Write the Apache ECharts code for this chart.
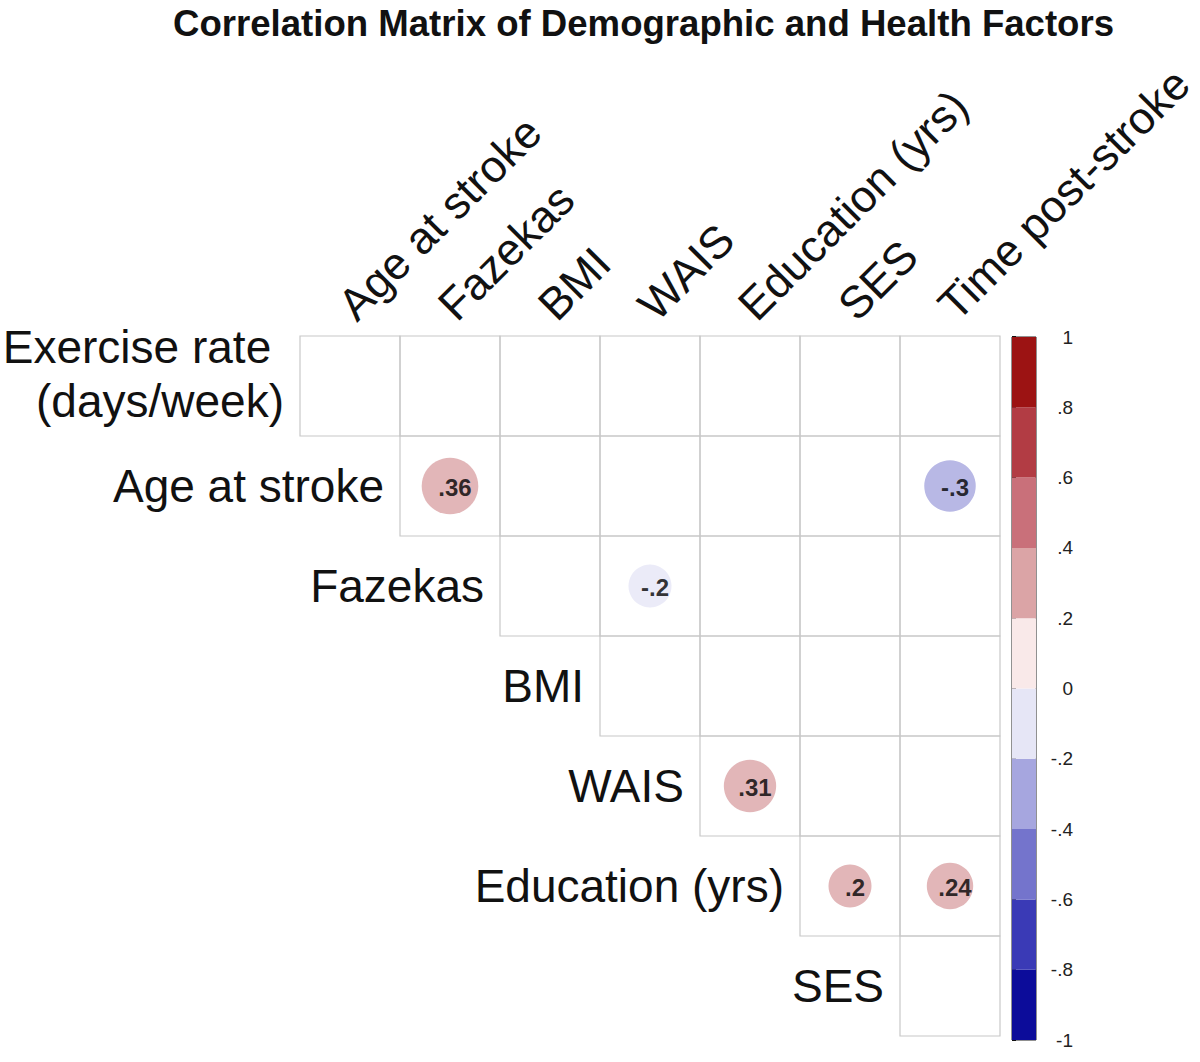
<!DOCTYPE html>
<html>
<head>
<meta charset="utf-8">
<title>Correlation Matrix</title>
<script src="https://cdn.jsdelivr.net/npm/echarts@6/dist/echarts.min.js"></script>
<style>
  html, body { margin: 0; padding: 0; background: #fff; }
  #main { width: 1200px; height: 1062px; }
</style>
</head>
<body>
<div id="main"></div>
<script>
// variables of the matrix
var rowNames = ['Exercise rate\n(days/week)', 'Age at stroke', 'Fazekas', 'BMI', 'WAIS', 'Education (yrs)', 'SES'];
var colNames = ['Age at stroke', 'Fazekas', 'BMI', 'WAIS', 'Education (yrs)', 'SES', 'Time post-stroke'];

// significant correlations (the only circles shown)
var corrRow = [1, 1, 2, 4, 5, 5];   // index into rowNames
var corrCol = ['Fazekas', 'Time post-stroke', 'WAIS', 'Education (yrs)', 'SES', 'Time post-stroke'];
var corrValue = [0.36, -0.3, -0.2, 0.31, 0.2, 0.24];

// colour scale
var bandLow = [-1, -0.8, -0.6, -0.4, -0.2, 0, 0.2, 0.4, 0.6, 0.8];
var bandHigh = [-0.8, -0.6, -0.4, -0.2, 0, 0.2, 0.4, 0.6, 0.8, 1];
var bandColor = ['#0c0c9a', '#3a3ab6', '#7474cc', '#a6a6df', '#e6e6f6',
                 '#f9e9e9', '#dba4a6', '#c9707a', '#b23c44', '#9c1313'];

function colorFor(v) {
  for (var i = 0; i < bandLow.length; i++) {
    if (v >= bandLow[i] - 1e-9 && v < bandHigh[i] - 1e-9) return bandColor[i];
  }
  return bandColor[bandColor.length - 1];
}
function fmt(v) {
  return String(v).replace('0.', '.');
}

// upper-triangle cells
var cellData = [];
for (var i = 0; i < rowNames.length; i++) {
  for (var j = i; j < colNames.length; j++) cellData.push([j, i]);
}
var rowLabelData = rowNames.map(function (n, i) { return [i, i]; });
var colLabelData = colNames.map(function (n, j) { return [j, 0]; });

var circleData = corrValue.map(function (v, k) {
  return {
    value: [colNames.indexOf(corrCol[k]), corrRow[k], v],
    itemStyle: { color: colorFor(v) }
  };
});

var barData = bandLow.map(function (lo, i) { return [lo, bandHigh[i]]; });

var labelFont = 'Liberation Sans, Arial, sans-serif';

var chart = echarts.init(document.getElementById('main'), null, { renderer: 'svg' });
var option = {
  backgroundColor: '#fff',
  animation: false,
  title: {
    text: 'Correlation Matrix of Demographic and Health Factors',
    left: 168,
    top: 0,
    textStyle: {
      fontFamily: labelFont,
      fontWeight: 'bold',
      fontSize: 36.6,
      color: '#111'
    }
  },
  grid: [
    { left: 300, top: 336, width: 700, height: 700 },
    { left: 1012, top: 337, width: 24, height: 703, show: true, borderColor: '#222', borderWidth: 1 }
  ],
  xAxis: [
    {
      gridIndex: 0,
      type: 'category',
      data: colNames,
      position: 'top',
      axisLine: { show: false },
      axisTick: { show: false },
      splitLine: { show: false },
      axisLabel: { show: false }
    },
    { gridIndex: 1, type: 'value', min: 0, max: 1, show: false }
  ],
  yAxis: [
    {
      gridIndex: 0,
      type: 'category',
      data: rowNames,
      inverse: true,
      axisLine: { show: false },
      axisTick: { show: false },
      axisLabel: { show: false },
      splitLine: { show: false }
    },
    {
      gridIndex: 1,
      type: 'value',
      min: -1,
      max: 1,
      interval: 0.2,
      position: 'right',
      axisLine: { show: false },
      splitLine: { show: false },
      axisTick: { show: true, inside: false, length: 4, lineStyle: { color: '#111', width: 2 } },
      axisLabel: {
        margin: 37,
        align: 'right',
        fontSize: 19,
        fontFamily: labelFont,
        color: '#222',
        formatter: function (v) {
          var r = Math.round(v * 10) / 10;
          return fmt(r);
        }
      }
    }
  ],
  series: [
    {
      type: 'custom',
      xAxisIndex: 0,
      yAxisIndex: 0,
      silent: true,
      data: cellData,
      renderItem: function (params, api) {
        var c = api.coord([api.value(0), api.value(1)]);
        var s = api.size([1, 1]);
        return {
          type: 'rect',
          shape: { x: c[0] - s[0] / 2, y: c[1] - s[1] / 2, width: s[0], height: s[1] },
          style: { fill: 'none', stroke: '#c8c8c8', lineWidth: 1.2 }
        };
      }
    },
    {
      // row labels, staircase along the diagonal
      type: 'custom',
      xAxisIndex: 0,
      yAxisIndex: 0,
      silent: true,
      data: rowLabelData,
      renderItem: function (params, api) {
        var c = api.coord([api.value(0), api.value(1)]);
        var s = api.size([1, 1]);
        var name = rowNames[params.dataIndex];
        var multi = name.indexOf('\n') >= 0;
        return {
          type: 'text',
          style: {
            x: c[0] - s[0] / 2 - 16,
            y: c[1] - (multi ? 12 : 0),
            text: name.replace('\n', ' \n'),
            align: 'right',
            verticalAlign: 'middle',
            font: '46px ' + labelFont,
            lineHeight: 54,
            fill: '#111'
          }
        };
      }
    },
    {
      // column labels, rotated 45 degrees above the grid
      type: 'custom',
      xAxisIndex: 0,
      yAxisIndex: 0,
      silent: true,
      data: colLabelData,
      renderItem: function (params, api) {
        var c = api.coord([api.value(0), api.value(1)]);
        var s = api.size([1, 1]);
        return {
          type: 'text',
          x: c[0] + 12,
          y: c[1] - s[1] / 2 - 8,
          rotation: Math.PI / 4,
          style: {
            x: 0,
            y: 0,
            text: colNames[params.dataIndex],
            align: 'left',
            verticalAlign: 'bottom',
            font: '45px ' + labelFont,
            fill: '#111'
          }
        };
      }
    },
    {
      type: 'scatter',
      xAxisIndex: 0,
      yAxisIndex: 0,
      data: circleData,
      symbolSize: function (val) { return 26 + 85 * Math.abs(val[2]); },
      label: {
        show: true,
        position: 'inside',
        offset: [5, 1],
        formatter: function (p) { return fmt(p.value[2]); },
        fontSize: 24,
        fontWeight: 'bold',
        fontFamily: labelFont,
        color: '#000'
      }
    },
    {
      type: 'custom',
      xAxisIndex: 1,
      yAxisIndex: 1,
      silent: true,
      data: barData,
      renderItem: function (params, api) {
        var p1 = api.coord([0, api.value(1)]);
        var p2 = api.coord([1, api.value(0)]);
        return {
          type: 'rect',
          shape: { x: p1[0], y: p1[1], width: p2[0] - p1[0], height: p2[1] - p1[1] },
          style: { fill: bandColor[params.dataIndex] }
        };
      }
    }
  ]
};
chart.setOption(option);
</script>
</body>
</html>
